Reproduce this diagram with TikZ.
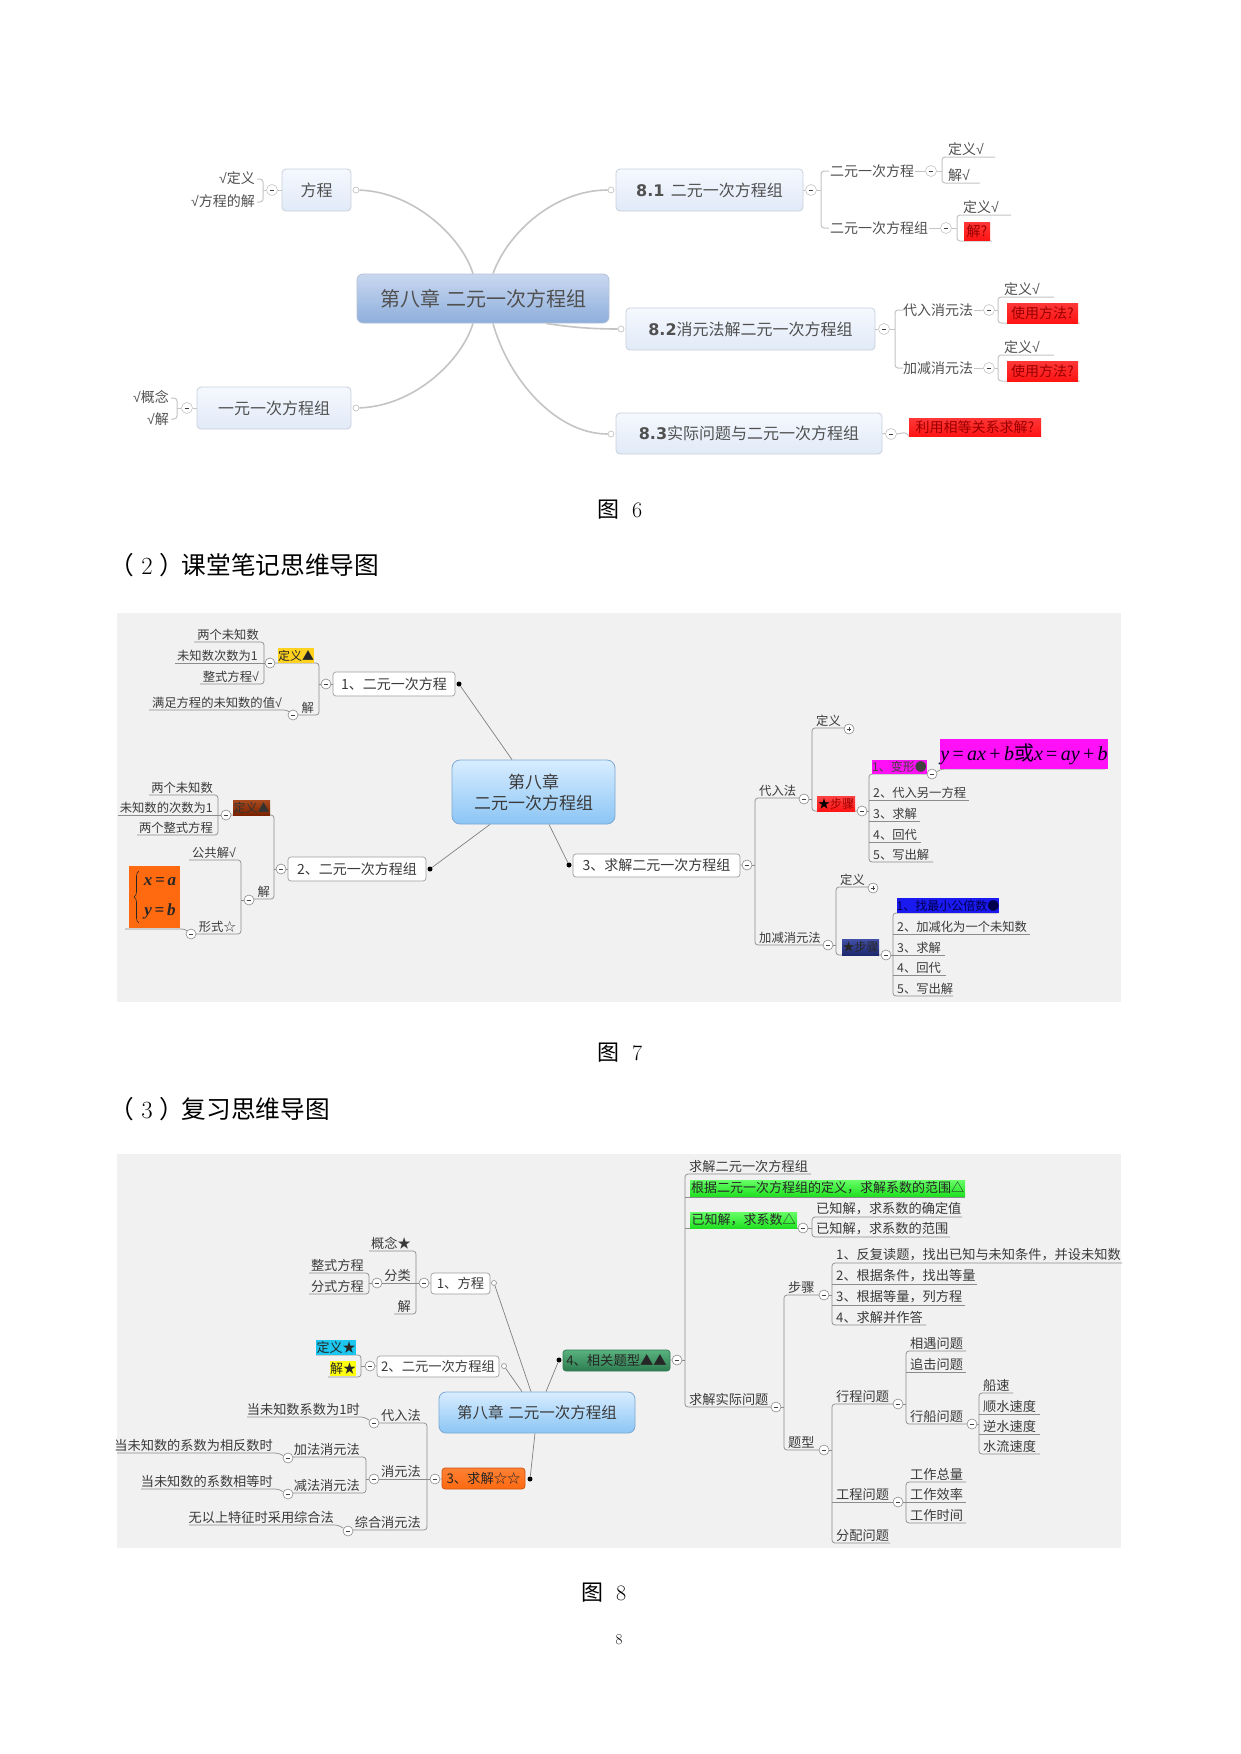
\documentclass[tikz,border=0pt]{standalone}
\usepackage{fontspec}
\newfontfamily\cjk{Noto Sans CJK SC}
\newfontfamily\dvs{DejaVu Sans}
\newfontfamily\tms{Liberation Serif}
\newfontfamily\lsans{Liberation Sans}
\newcommand\chk{{\lsans √}}
\usetikzlibrary{calc,decorations.pathreplacing}
\definecolor{txt}{HTML}{3A3A3A}
\definecolor{txtsix}{HTML}{505050}
\definecolor{lnsix}{HTML}{C4C4C4}
\definecolor{ln}{HTML}{8C8C8C}
\definecolor{bg}{HTML}{F1F1F1}
\definecolor{bsixtop}{HTML}{F5F8FE}
\definecolor{bsixbot}{HTML}{E1EAF8}
\definecolor{bsixdr}{HTML}{C8D0DC}
\definecolor{csixtop}{HTML}{C9D8F0}
\definecolor{csixbot}{HTML}{8DAEDC}
\definecolor{csixdr}{HTML}{B4C2D6}
\definecolor{ctop}{HTML}{D8EDFF}
\definecolor{cbot}{HTML}{8BC5F5}
\definecolor{cdr}{HTML}{7DA8D2}
\definecolor{rd}{HTML}{FF1414}
\definecolor{rdt}{HTML}{980000}
\definecolor{gold}{HTML}{FFD21F}
\definecolor{brntop}{HTML}{A84A1E}
\definecolor{brnbot}{HTML}{7A2200}
\definecolor{mag}{HTML}{FF10F6}
\definecolor{blu}{HTML}{1A1AF0}
\definecolor{dblutop}{HTML}{4250A8}
\definecolor{dblubot}{HTML}{1E286E}
\definecolor{org}{HTML}{FF6A10}
\definecolor{cyn}{HTML}{1CC6EE}
\definecolor{yel}{HTML}{FFFF10}
\definecolor{grntop}{HTML}{58B27E}
\definecolor{grnbot}{HTML}{2E7C50}
\definecolor{lgrtop}{HTML}{66FF66}
\definecolor{lgrbot}{HTML}{22E022}
\tikzset{
  box6/.style={draw=bsixdr, line width=0.8pt, rounded corners=4pt, top color=bsixtop, bottom color=bsixbot, text=txtsix, font=\cjk\fontsize{16}{16}\selectfont, inner sep=0pt},
  cen6/.style={draw=csixdr, line width=0.8pt, rounded corners=6pt, top color=csixtop, bottom color=csixbot, text=txtsix, font=\cjk\fontsize{20}{20}\selectfont, inner sep=0pt},
  lab6/.style={font=\cjk\fontsize{14}{14}\selectfont, text=txtsix, inner sep=1pt},
  red6/.style={top color=rd!85!white, bottom color=rd, text=rdt, font=\cjk\fontsize{14}{14}\selectfont, inner sep=0pt},
  curve6/.style={draw=lnsix, line width=1.6pt},
  br6/.style={draw=lnsix, line width=1pt, rounded corners=3pt},
  cmin/.style={circle, draw=ln, fill=white, line width=0.6pt, minimum size=10pt, inner sep=0pt,
    path picture={\draw[line width=0.9pt, black!75] ([xshift=-2.4pt]path picture bounding box.center) -- ([xshift=2.4pt]path picture bounding box.center);}},
  cminsix/.style={cmin, draw=lnsix, minimum size=11pt},
  cplus/.style={circle, draw=ln, fill=white, line width=0.6pt, minimum size=10pt, inner sep=0pt,
    path picture={\draw[line width=0.9pt, black!75] ([xshift=-2.4pt]path picture bounding box.center) -- ([xshift=2.4pt]path picture bounding box.center) ([yshift=-2.4pt]path picture bounding box.center) -- ([yshift=2.4pt]path picture bounding box.center);}},
  ocirc/.style={circle, draw=lnsix, fill=white, line width=0.7pt, minimum size=6pt, inner sep=0pt},
  ocirceight/.style={circle, draw=ln, fill=white, line width=0.6pt, minimum size=5pt, inner sep=0pt},
  bdot/.style={circle, fill=black, minimum size=5pt, inner sep=0pt},
  box7/.style={draw=black!38, fill=white, rounded corners=3pt, line width=0.7pt, font=\cjk\fontsize{14}{14}\selectfont, text=txt, inner sep=0pt},
  cen7/.style={draw=cdr, line width=0.8pt, rounded corners=8pt, top color=ctop, bottom color=cbot, text=txt, font=\cjk\fontsize{17}{21}\selectfont, inner sep=0pt, align=center},
  box8/.style={draw=black!38, fill=white, rounded corners=3pt, line width=0.7pt, font=\cjk\fontsize{13.3}{13.3}\selectfont, text=txt, inner sep=0pt},
  cen8/.style={draw=cdr, line width=0.8pt, rounded corners=7pt, top color=ctop, bottom color=cbot, text=txt, font=\cjk\fontsize{15.5}{15.5}\selectfont, inner sep=0pt},
  hl/.style={inner sep=0pt, font=\cjk\fontsize{12}{12}\selectfont, text=black!85},
  hleight/.style={inner sep=0pt, font=\cjk\fontsize{13}{13}\selectfont, text=black!85},
  lab7/.style={font=\cjk\fontsize{12.3}{12.3}\selectfont, text=txt, inner xsep=1pt, inner ysep=1.5pt},
  lab8/.style={font=\cjk\fontsize{13.2}{13.2}\selectfont, text=txt, inner xsep=1pt, inner ysep=1.5pt},
  br/.style={draw=ln, line width=0.7pt, rounded corners=3pt},
  conn/.style={draw=black!50, line width=0.7pt},
  captxt/.style={font=\cjk\fontsize{22}{22}\selectfont, text=black, inner sep=0pt},
  headtxt/.style={font=\cjk\fontsize{24.7}{24.7}\selectfont, text=black, inner sep=0pt, anchor=west},
  sysl/.style={font=\tms\bfseries\itshape\fontsize{17}{17}\selectfont, text=black!85, inner sep=0pt}
}
\begin{document}
\begin{tikzpicture}[x=1pt,y=-1pt]
\useasboundingbox (0,0) rectangle (1241,1754);
\fill[white] (0,0) rectangle (1241,1754);

%================ Figure 6 ================
\node[box6,minimum width=69pt,minimum height=42pt] (fc) at (316.5,190) {方程};
\node[box6,minimum width=154pt,minimum height=42pt] (yy) at (274,408) {一元一次方程组};
\node[cen6,minimum width=252pt,minimum height=49pt] (c6) at (483,298.5) {第八章\hspace{0.3em}二元一次方程组};
\node[box6,minimum width=187pt,minimum height=42pt] (s81) at (709.5,190) {{\dvs\bfseries 8.1}\hspace{0.4em}二元一次方程组};
\node[box6,minimum width=249pt,minimum height=42pt] (s82) at (750.5,329) {{\dvs\bfseries 8.2}消元法解二元一次方程组};
\node[box6,minimum width=266pt,minimum height=41pt] (s83) at (749,433.5) {{\dvs\bfseries 8.3}实际问题与二元一次方程组};
\node[ocirc] (o1) at (356,190) {};
\node[ocirc] (o2) at (356,408) {};
\node[ocirc] (o3) at (611,190) {};
\node[ocirc] (o4) at (621,329) {};
\node[ocirc] (o5) at (611,434) {};
\draw[curve6] (o1) .. controls (415,192) and (462,238) .. ([xshift=-10pt]c6.north);
\draw[curve6] (o2) .. controls (415,406) and (462,360) .. ([xshift=-10pt]c6.south);
\draw[curve6] ([xshift=10pt]c6.north) .. controls (508,232) and (555,190) .. (o3);
\draw[curve6] ([xshift=10pt]c6.south) .. controls (508,378) and (555,434) .. (o5);
\draw[curve6] ([xshift=63pt]c6.south) .. controls (575,328) and (598,329) .. (o4);

% left of 方程
\node[lab6,anchor=east] (t1) at (256,178) {\chk 定义};
\node[lab6,anchor=east] (t2) at (256,201) {\chk 方程的解};
\node[cminsix] (m1) at (272,190) {};
\draw[br6] (257,179) -- (263,179) -- (263,202) -- (257,202);
\draw[br6] (263,190) -- (m1);
\draw[br6] (m1) -- (fc.west);
% left of 一元一次方程组
\node[lab6,anchor=east] (t3) at (170,397) {\chk 概念};
\node[lab6,anchor=east] (t4) at (170,419) {\chk 解};
\node[cminsix] (m2) at (187,408) {};
\draw[br6] (171,398) -- (177,398) -- (177,419) -- (171,419);
\draw[br6] (177,408) -- (m2);
\draw[br6] (m2) -- (yy.west);
% 8.1
\node[cminsix] (m3) at (811,190) {};
\draw[br6] (s81.east) -- (m3);
\draw[br6] (829,171) -- (821,171) -- (821,228) -- (829,228);
\draw[br6] (m3) -- (821,190);
\node[lab6,anchor=west] (t5) at (829,171) {二元一次方程};
\node[lab6,anchor=west] (t6) at (829,228) {二元一次方程组};
\node[cminsix] (m4) at (931,171) {};
\draw[br6] (t5.east) -- (m4);
\draw[br6] (995,157) -- (942,157) -- (942,183) -- (980,183);
\draw[br6] (m4) -- (942,171);
\node[lab6,anchor=south west] (t7) at (947,157) {定义\chk};
\node[lab6,anchor=south west] (t8) at (947,183) {解\chk};
\node[cminsix] (m5) at (946,228) {};
\draw[br6] (t6.east) -- (m5);
\draw[br6] (1011,215) -- (957,215) -- (957,241) -- (992,241);
\draw[br6] (m5) -- (957,228);
\node[lab6,anchor=south west] (t9) at (962,215) {定义\chk};
\node[red6,minimum width=26pt,minimum height=18pt] (r1) at (977,231) {解?};
% 8.2
\node[cminsix] (m6) at (884,329) {};
\draw[br6] (s82.east) -- (m6);
\draw[br6] (903,310) -- (895,310) -- (895,368) -- (903,368);
\draw[br6] (m6) -- (895,329);
\node[lab6,anchor=west] (t10) at (902,310) {代入消元法};
\node[lab6,anchor=west] (t11) at (902,368) {加减消元法};
\node[cminsix] (m7) at (989,310) {};
\node[cminsix] (m8) at (989,368) {};
\draw[br6] (t10.east) -- (m7);
\draw[br6] (t11.east) -- (m8);
\draw[br6] (1054,297) -- (998,297) -- (998,323) -- (1080,323);
\draw[br6] (m7) -- (998,310);
\node[lab6,anchor=south west] (t12) at (1003,297) {定义\chk};
\node[red6,minimum width=71pt,minimum height=20pt] (r2) at (1042.5,313) {使用方法?};
\draw[br6] (1054,355) -- (998,355) -- (998,381) -- (1080,381);
\draw[br6] (m8) -- (998,368);
\node[lab6,anchor=south west] (t13) at (1003,355) {定义\chk};
\node[red6,minimum width=71pt,minimum height=20pt] (r3) at (1042.5,371) {使用方法?};
% 8.3
\node[cminsix] (m9) at (891,434) {};
\draw[br6] (s83.east) -- (m9);
\node[red6,minimum width=132pt,minimum height=18pt] (r4) at (975,427) {利用相等关系求解?};
\draw[br6] (m9.east) .. controls (902,434) and (905,430) .. (r4.south west);

\node[captxt] (cap6) at (620,510) {图\hspace{0.55em}{\rmfamily 6}};
\node[headtxt] (h2a) at (109.5,565) {（\hspace{7pt}{\rmfamily 2}\hspace{7pt}）};
\node[headtxt] (h2b) at (181.5,565) {课堂笔记思维导图};

%================ Figure 7 ================
\fill[bg] (117,613) rectangle (1121,1002);
% top-left group
\node[lab7,anchor=south east] (a1) at (260,642) {两个未知数};
\node[lab7,anchor=south east] (a2) at (259,663) {未知数次数为1};
\node[lab7,anchor=south east] (a3) at (260,684) {整式方程\chk};
\draw[br] (194,642) -- (264,642) -- (264,684) -- (200,684);
\draw[br] (175,663) -- (265,663);
\node[cmin] (n1) at (270,663) {};
\draw[br] (n1) -- (319,663) -- (319,715) -- (298,715);
\node[hl,fill=gold,minimum width=36pt,minimum height=15pt] (y1) at (296,655.5) {定义▲};
\node[cmin] (n2) at (326,684) {};
\draw[br] (319,684) -- (n2);
\node[box7,minimum width=122pt,minimum height=24pt] (b1) at (394,684) {1、二元一次方程};
\draw[br] (n2) -- (b1);
\node[bdot] (d1) at (459,684) {};
\node[lab7,anchor=south east] (a4) at (315,715) {解};
\node[cmin] (n3) at (293,715) {};
\draw[br] (n3) -- (287,710) -- (149,710);
\node[lab7,anchor=south east] (a5) at (283,710) {满足方程的未知数的值\chk};

% center
\node[cen7,minimum width=163pt,minimum height=64pt] (c7) at (533.5,792) {第八章\\二元一次方程组};
\draw[conn] (d1) -- ([xshift=-21.5pt]c7.north);
\node[bdot] (d2) at (430,869) {};
\draw[conn] ([xshift=-43.5pt]c7.south) -- (d2);
\node[bdot] (d3) at (569,865) {};
\draw[conn] ([xshift=15.5pt]c7.south) -- (d3);

% box 2 group
\node[box7,minimum width=138pt,minimum height=24pt] (b2) at (357,869) {2、二元一次方程组};
\node[cmin] (n4) at (281,869) {};
\draw[br] (n4) -- (b2);
\draw[br] (231,815) -- (274,815) -- (274,899) -- (254,899);
\draw[br] (274,869) -- (n4);
\node[hl,top color=brntop,bottom color=brnbot,text=black!80,minimum width=37pt,minimum height=15pt] (y2) at (251.5,807.5) {定义▲};
\node[cmin] (n5) at (226,815) {};
\draw[br] (149,795) -- (218,795) -- (218,835) -- (137,835);
\draw[br] (118,815) -- (n5);
\node[lab7,anchor=south east] (a6) at (214,795) {两个未知数};
\node[lab7,anchor=south east] (a7) at (214,815) {未知数的次数为1};
\node[lab7,anchor=south east] (a8) at (214,835) {两个整式方程};
\node[lab7,anchor=south east] (a9) at (271,899) {解};
\node[cmin] (n6) at (249,900) {};
\draw[br] (241,900) -- (n6);
\draw[br] (189,860) -- (241,860) -- (241,934) -- (196,934);
\node[lab7,anchor=south east] (a10) at (237,860) {公共解\chk};
\node[lab7,anchor=south east] (a11) at (237,934) {形式☆};
\node[cmin] (n7) at (191,934) {};
\draw[br] (n7) -- (185,929) -- (125,929);
\node[fill=org,minimum width=51pt,minimum height=62pt,inner sep=0pt] (ob) at (154.5,897) {};
\draw[black!85, line width=0.6pt, decorate, decoration={brace, amplitude=5pt}] (139,923) -- (139,871);
\node[sysl] (sx) at (160,882) {x\,=\,a};
\node[sysl] (sy) at (160,911) {y\,=\,b};

% right: box 3
\node[box7,minimum width=167pt,minimum height=23pt] (b3) at (656.5,865.5) {3、求解二元一次方程组};
\node[cmin] (n8) at (747,865) {};
\draw[br] (b3) -- (n8);
\draw[br] (799,798) -- (755,798) -- (755,945) -- (823,945);
\draw[br] (n8) -- (755,865);
\node[lab7,anchor=south west] (a12) at (758,798) {代入法};
\node[lab7,anchor=south west] (a13) at (758,945) {加减消元法};
\node[cmin] (n9) at (804,799) {};
\node[cmin] (n10) at (828,945) {};
% 代入法
\draw[br] (844,728) -- (812,728) -- (812,811) -- (857,811);
\draw[br] (n9) -- (812,799);
\node[lab7,anchor=south west] (a14) at (815,728) {定义};
\node[cplus] (p1) at (849,729) {};
\node[hl,top color=rd!80!white,bottom color=rd,text=rdt,minimum width=38pt,minimum height=15pt] (y3) at (836,803.5) {{\color{black}★}步骤};
\node[cmin] (n11) at (862,811) {};
\draw[br] (927,774) -- (869,774) -- (869,862) -- (933,862);
\draw[br] (869,800) -- (969,800);
\draw[br] (869,821) -- (920,821);
\draw[br] (869,842) -- (921,842);
\draw[br] (n11) -- (869,811);
\node[hl,fill=mag,text=black!75,minimum width=51pt,minimum height=14pt] (y4) at (899.5,767) {1、变形●};
\node[lab7,anchor=south west] (a15) at (872,800) {2、代入另一方程};
\node[lab7,anchor=south west] (a16) at (872,821) {3、求解};
\node[lab7,anchor=south west] (a17) at (872,842) {4、回代};
\node[lab7,anchor=south west] (a18) at (872,862) {5、写出解};
\node[cmin] (n12) at (932,774) {};
\draw[br] (n12) -- (942,769) -- (1105,769);
\node[fill=mag,minimum width=158pt,minimum height=30pt,inner sep=0pt,text=black!90!blue,font=\fontsize{20}{20}\selectfont] (fm) at (1024,754) {{\tms\itshape y}\,{\tms=}\,{\tms\itshape ax}\,{\tms+}\,{\tms\itshape b}{\cjk 或}{\tms\itshape x}\,{\tms=}\,{\tms\itshape ay}\,{\tms+}\,{\tms\itshape b}};
% 加减消元法
\draw[br] (868,887) -- (836,887) -- (836,955) -- (881,955);
\draw[br] (n10) -- (836,945);
\node[lab7,anchor=south west] (a19) at (839,887) {定义};
\node[cplus] (p2) at (873,888) {};
\node[hl,top color=dblutop,bottom color=dblubot,text=black!85,minimum width=37pt,minimum height=16pt] (y5) at (860.5,947) {★步骤};
\node[cmin] (n13) at (886,955) {};
\draw[br] (998,913) -- (893,913) -- (893,996) -- (953,996);
\draw[br] (893,934) -- (1030,934);
\draw[br] (n13) -- (945,955);
\draw[br] (893,975) -- (946,975);
\node[hl,fill=blu,text=blue!30!black,minimum width=100pt,minimum height=15pt] (y6) at (948,905.5) {1、找最小公倍数●};
\node[lab7,anchor=south west] (a20) at (896,934) {2、加减化为一个未知数};
\node[lab7,anchor=south west] (a21) at (896,955) {3、求解};
\node[lab7,anchor=south west] (a22) at (896,975) {4、回代};
\node[lab7,anchor=south west] (a23) at (896,996) {5、写出解};

\node[captxt] (cap7) at (620,1053) {图\hspace{0.55em}{\rmfamily 7}};
\node[headtxt] (h3a) at (109.5,1109) {（\hspace{7pt}{\rmfamily 3}\hspace{7pt}）};
\node[headtxt] (h3b) at (181.5,1109) {复习思维导图};

%================ Figure 8 ================
\fill[bg] (117,1154) rectangle (1121,1548);
\node[cen8,minimum width=196pt,minimum height=41pt] (c8) at (537,1412.5) {第八章\hspace{0.3em}二元一次方程组};
\node[box8,minimum width=59pt,minimum height=21pt] (e1) at (460.5,1283.5) {1、方程};
\node[ocirceight] (o81) at (494,1283) {};
\draw[conn] (o81) -- ([xshift=-6pt]c8.north);
\node[box8,minimum width=122pt,minimum height=21pt] (e2) at (438,1366.5) {2、二元一次方程组};
\node[ocirceight] (o82) at (504,1366) {};
\draw[conn] (o82) -- ([xshift=-15pt]c8.north);
\node[box8,top color=grntop,bottom color=grnbot,draw=grnbot,text=black!85,minimum width=107pt,minimum height=21pt] (e4) at (616.5,1360.5) {4、相关题型▲▲};
\node[bdot] (d84) at (559,1360) {};
\draw[conn] ([xshift=9pt]c8.north) -- (d84);
\node[box8,top color=org!85!white,bottom color=org,draw=org!80!black,text=black!85,minimum width=83pt,minimum height=21pt] (e3) at (483.5,1478.5) {3、求解☆☆};
\node[bdot] (d83) at (530,1479) {};
\draw[conn] ([xshift=-2pt]c8.south) -- (d83);

% 1、方程 group
\node[cmin] (q1) at (424,1283) {};
\draw[br] (q1) -- (e1);
\node[cmin] (q2) at (377,1283) {};
\draw[br] (369,1251) -- (416,1251) -- (416,1314) -- (394,1314);
\draw[br] (q2) -- (q1);
\node[lab8,anchor=south east] (g1) at (412,1251) {概念★};
\node[lab8,anchor=south east] (g2) at (412,1283) {分类};
\node[lab8,anchor=south east] (g3) at (412,1314) {解};
\draw[br] (309,1273) -- (369,1273) -- (369,1294) -- (309,1294);
\draw[br] (369,1283) -- (q2);
\node[lab8,anchor=south east] (g4) at (365,1273) {整式方程};
\node[lab8,anchor=south east] (g5) at (365,1294) {分式方程};
% 2、 group
\node[cmin] (q3) at (370,1366) {};
\draw[br] (q3) -- (e2);
\draw[br] (316,1355) -- (361,1355) -- (361,1377) -- (328,1377);
\draw[br] (361,1366) -- (q3);
\node[hleight,fill=cyn,minimum width=40pt,minimum height=15pt] (y81) at (336,1347.5) {定义★};
\node[hleight,fill=yel,minimum width=26pt,minimum height=15pt] (y82) at (343,1368.5) {解★};
% 3、 group
\node[cmin] (q4) at (435,1479) {};
\draw[br] (q4) -- (e3);
\node[cmin] (q5) at (374,1423) {};
\node[cmin] (q6) at (374,1479) {};
\draw[br] (q5) -- (427,1423) -- (427,1530) -- (353,1530);
\draw[br] (q6) -- (q4);
\node[lab8,anchor=south east] (g6) at (422,1423) {代入法};
\node[lab8,anchor=south east] (g7) at (422,1479) {消元法};
\node[lab8,anchor=south east] (g8) at (422,1530) {综合消元法};
\draw[br] (q5) -- (364,1417) -- (247,1417);
\node[lab8,anchor=south east] (g9) at (361,1417) {当未知数系数为1时};
\draw[br] (293,1457) -- (366,1457) -- (366,1493) -- (293,1493);
\draw[br] (366,1479) -- (q6);
\node[lab8,anchor=south east] (g10) at (361,1457) {加法消元法};
\node[lab8,anchor=south east] (g11) at (361,1493) {减法消元法};
\node[cmin] (q7) at (288,1458) {};
\draw[br] (q7) -- (278,1453) -- (117,1453);
\node[lab8,anchor=south east] (g12) at (274,1453) {当未知数的系数为相反数时};
\node[cmin] (q8) at (288,1494) {};
\draw[br] (q8) -- (278,1489) -- (141,1489);
\node[lab8,anchor=south east] (g13) at (274,1489) {当未知数的系数相等时};
\node[cmin] (q9) at (348,1531) {};
\draw[br] (q9) -- (338,1525) -- (189,1525);
\node[lab8,anchor=south east] (g14) at (335,1525) {无以上特征时采用综合法};

% 4、 group
\node[cmin] (q10) at (677,1360) {};
\draw[br] (e4) -- (q10);
\draw[br] (811,1174) -- (685,1174) -- (685,1407) -- (771,1407);
\draw[br] (685,1197) -- (965,1197);
\draw[br] (685,1228) -- (798,1228);
\draw[br] (q10) -- (685,1360);
\node[lab8,anchor=south west] (k1) at (688,1174) {求解二元一次方程组};
\node[hleight,top color=lgrtop,bottom color=lgrbot,minimum width=275pt,minimum height=16pt] (k2) at (827.5,1188) {根据二元一次方程组的定义，求解系数的范围△};
\node[hleight,top color=lgrtop,bottom color=lgrbot,minimum width=107pt,minimum height=16pt] (k3) at (743.5,1220) {已知解，求系数△};
\node[cmin] (q11) at (803,1228) {};
\draw[br] (962,1217) -- (812,1217) -- (812,1237) -- (950,1237);
\draw[br] (q11) -- (812,1228);
\node[lab8,anchor=south west] (k4) at (815,1217) {已知解，求系数的确定值};
\node[lab8,anchor=south west] (k5) at (815,1237) {已知解，求系数的范围};
\node[lab8,anchor=south west] (k6) at (688,1407) {求解实际问题};
\node[cmin] (q12) at (776,1407) {};
\draw[br] (819,1295) -- (784,1295) -- (784,1450) -- (819,1450);
\draw[br] (q12) -- (784,1407);
\node[lab8,anchor=south west] (k7) at (787,1295) {步骤};
\node[lab8,anchor=south west] (k8) at (787,1450) {题型};
\node[cmin] (q13) at (824,1295) {};
\node[cmin] (q14) at (824,1450) {};
\draw[br] (1122,1263) -- (832,1263) -- (832,1325) -- (926,1325);
\draw[br] (832,1284) -- (977,1284);
\draw[br] (832,1305) -- (965,1305);
\draw[br] (q13) -- (832,1295);
\node[lab8,anchor=south west] (k9) at (835,1263) {1、反复读题，找出已知与未知条件，并设未知数};
\node[lab8,anchor=south west] (k10) at (835,1284) {2、根据条件，找出等量};
\node[lab8,anchor=south west] (k11) at (835,1305) {3、根据等量，列方程};
\node[lab8,anchor=south west] (k12) at (835,1325) {4、求解并作答};
\draw[br] (893,1404) -- (832,1404) -- (832,1543) -- (890,1543);
\draw[br] (832,1502) -- (893,1502);
\draw[br] (q14) -- (832,1450);
\node[lab8,anchor=south west] (k13) at (835,1404) {行程问题};
\node[lab8,anchor=south west] (k14) at (835,1502) {工程问题};
\node[lab8,anchor=south west] (k15) at (835,1543) {分配问题};
\node[cmin] (q15) at (898,1404) {};
\node[cmin] (q16) at (898,1502) {};
\draw[br] (966,1351) -- (906,1351) -- (906,1424) -- (967,1424);
\draw[br] (906,1372) -- (966,1372);
\draw[br] (q15) -- (906,1404);
\node[lab8,anchor=south west] (k16) at (909,1351) {相遇问题};
\node[lab8,anchor=south west] (k17) at (909,1372) {追击问题};
\node[lab8,anchor=south west] (k18) at (909,1424) {行船问题};
\node[cmin] (q17) at (972,1424) {};
\draw[br] (1013,1393) -- (979,1393) -- (979,1454) -- (1040,1454);
\draw[br] (979,1414) -- (1040,1414);
\draw[br] (979,1434) -- (1040,1434);
\draw[br] (q17) -- (979,1424);
\node[lab8,anchor=south west] (k19) at (982,1393) {船速};
\node[lab8,anchor=south west] (k20) at (982,1414) {顺水速度};
\node[lab8,anchor=south west] (k21) at (982,1434) {逆水速度};
\node[lab8,anchor=south west] (k22) at (982,1454) {水流速度};
\draw[br] (966,1482) -- (906,1482) -- (906,1523) -- (966,1523);
\draw[br] (q16) -- (966,1502);
\node[lab8,anchor=south west] (k23) at (909,1482) {工作总量};
\node[lab8,anchor=south west] (k24) at (909,1502) {工作效率};
\node[lab8,anchor=south west] (k25) at (909,1523) {工作时间};

\node[captxt] (cap8) at (604,1593) {图\hspace{0.55em}{\rmfamily 8}};
\node[font=\rmfamily\fontsize{15}{15}\selectfont, inner sep=0pt] (pg) at (619,1640) {8};
\end{tikzpicture}
\end{document}
